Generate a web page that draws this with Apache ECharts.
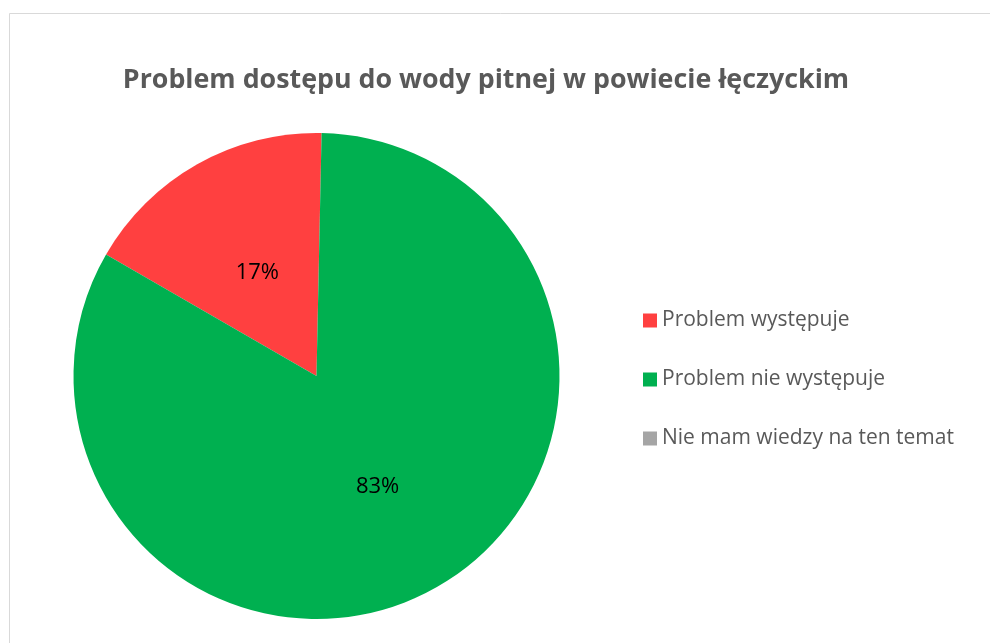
<!DOCTYPE html>
<html>
<head>
<meta charset="utf-8">
<script src="https://cdn.jsdelivr.net/npm/echarts@6/dist/echarts.min.js"></script>
<style>
html,body{margin:0;padding:0;background:#fff;}
#chart{width:990px;height:643px;}
</style>
</head>
<body>
<div id="chart"></div>
<script>
var titleText = 'Problem dostępu do wody pitnej w powiecie łęczyckim';
var categories = ['Problem występuje', 'Problem nie występuje', 'Nie mam wiedzy na ten temat'];
var values = [17, 83, 0];
var colors = ['#FF4040', '#00B050', '#A5A5A5'];

var labelOffsets = [[2, 5], [0, 2], [0, 0]];

var chart = echarts.init(document.getElementById('chart'), null, {renderer: 'canvas'});
var data = categories.map(function (c, i) {
  return {name: c, value: values[i], itemStyle: {color: colors[i]}, label: {offset: labelOffsets[i]}};
});
chart.setOption({
  backgroundColor: '#ffffff',
  animation: false,
  title: {
    text: titleText,
    left: 485,
    textAlign: 'center',
    top: 62,
    textStyle: {fontFamily: 'Open Sans', fontWeight: 'bold', fontSize: 26.8, color: '#595959'}
  },
  graphic: [{
    type: 'rect',
    shape: {x: 9.5, y: 13.5, width: 1100, height: 800},
    style: {fill: 'none', stroke: '#d9d9d9', lineWidth: 1},
    silent: true
  }],
  legend: {
    orient: 'vertical',
    left: 638,
    top: 305,
    itemWidth: 14,
    itemHeight: 14,
    itemGap: 38,
    icon: 'rect',
    data: categories,
    textStyle: {fontFamily: 'Open Sans', fontSize: 21, color: '#595959'}
  },
  series: [{
    type: 'pie',
    center: [316.5, 376],
    radius: [0, 243],
    startAngle: 150,
    clockwise: true,
    avoidLabelOverlap: false,
    label: {
      show: true,
      position: 'inside',
      fontFamily: 'Open Sans',
      fontSize: 22,
      color: '#000000',
      formatter: function (p) { return p.value > 0 ? p.value + '%' : ''; }
    },
    labelLine: {show: false},
    emphasis: {disabled: true},
    data: data
  }]
});
chart.setOption({title: {left: 481}});
</script>
</body>
</html>
